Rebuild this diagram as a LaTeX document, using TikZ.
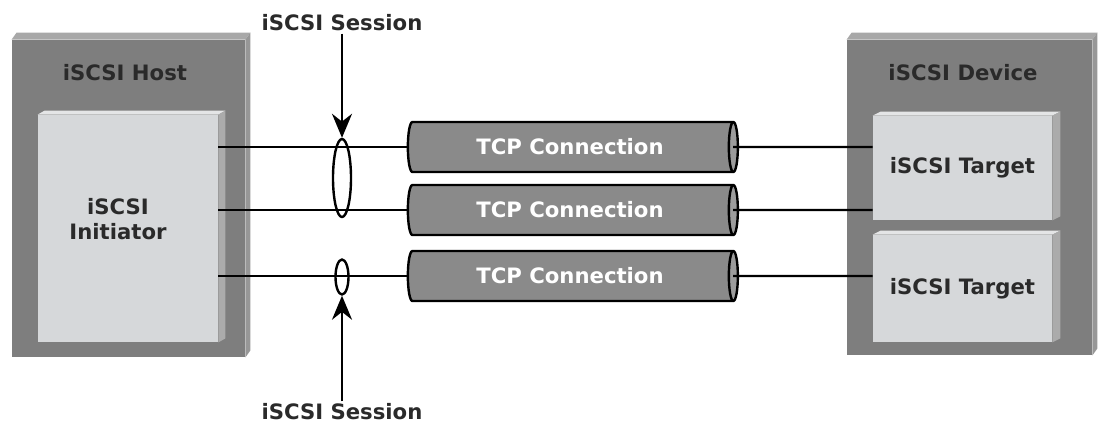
\documentclass[tikz,border=0pt]{standalone}
\usepackage{fontspec}
\setmainfont{DejaVu Sans}
\usetikzlibrary{shapes.geometric,arrows.meta}
\definecolor{boxdark}{HTML}{7E7E7E}
\definecolor{boxtop}{HTML}{A8A8A8}
\definecolor{boxside}{HTML}{979797}
\definecolor{panel}{HTML}{D6D8DA}
\definecolor{paneltop}{HTML}{E4E5E6}
\definecolor{panelside}{HTML}{ABABAB}
\definecolor{tubefill}{HTML}{8A8A8A}
\definecolor{tubeend}{HTML}{9C9C9C}
\definecolor{labeltext}{HTML}{2A2A2A}
\newcommand\boxbevel[5]{%
  \fill[#4] (#1.north west) -- ++(#2,-#3) -- ([shift={(#2,-#3)}]#1.north east) -- (#1.north east) -- cycle;
  \fill[#5] (#1.north east) -- ++(#2,-#3) -- ([shift={(#2,-#3)}]#1.south east) -- (#1.south east) -- cycle;}
\newcommand\lblfont{\bfseries\fontsize{10.6}{12.5}\selectfont}

\begin{document}
\begin{tikzpicture}[x=0.5pt,y=-0.5pt,>={Stealth[length=12pt,width=10pt]},
    outerbox/.style={fill=boxdark,inner sep=0pt},
    innerbox/.style={fill=panel,inner sep=0pt,font=\lblfont,text=labeltext},
    lbl/.style={font=\lblfont,text=labeltext,inner sep=1pt,align=center},
    tcp/.style={cylinder,draw=black,line width=1.2pt,shape aspect=0.55,
      cylinder uses custom fill,cylinder body fill=tubefill,cylinder end fill=tubeend,
      minimum height=165pt,minimum width=25pt,inner sep=0pt,text=white,font=\lblfont},
    session/.style={ellipse,draw=black,line width=1.2pt,inner sep=0pt},
    link/.style={line width=1.2pt}]
    \fill[white] (0,0) rectangle (1107,424);
    \useasboundingbox (0,0) rectangle (1107,424);

    \node[outerbox,minimum width=116.5pt,minimum height=158.5pt] (host) at (128.5,198.5) {};
    \boxbevel{host}{5}{7}{boxtop}{boxside}
    \node[lbl] (hostlbl) at (125,73) {iSCSI Host};
    \node[innerbox,minimum width=90pt,minimum height=113.5pt] (init) at (128,228.5) {};
    \boxbevel{init}{7}{4}{paneltop}{panelside}
    \node[lbl] (initlbl) at (118,219) {iSCSI\\Initiator};

    \node[outerbox,minimum width=122.5pt,minimum height=157.5pt] (dev) at (969.5,197.5) {};
    \boxbevel{dev}{5}{7}{boxtop}{boxside}
    \node[lbl] (devlbl) at (963,73) {iSCSI Device};
    \node[innerbox,minimum width=89.5pt,minimum height=52pt] (tgtA) at (962.5,168) {iSCSI Target};
    \boxbevel{tgtA}{8}{4}{paneltop}{panelside}
    \node[innerbox,minimum width=89.5pt,minimum height=53.5pt] (tgtB) at (962.5,288.5) {iSCSI Target};
    \boxbevel{tgtB}{8}{4}{paneltop}{panelside}

    \node[tcp] (tcpA) at (570,147) {TCP Connection};
    \node[tcp] (tcpB) at (570,210) {TCP Connection};
    \node[tcp] (tcpC) at (570,276) {TCP Connection};

    \draw[link] (init.east |- tcpA) -- (tcpA.west);
    \draw[link] (init.east |- tcpB) -- (tcpB.west);
    \draw[link] (init.east |- tcpC) -- (tcpC.west);
    \draw[link] ([xshift=-3pt]tcpA.east) -- (tgtA.west |- tcpA);
    \draw[link] ([xshift=-3pt]tcpB.east) -- (tgtA.west |- tcpB);
    \draw[link] ([xshift=-3pt]tcpC.east) -- (tgtB.west |- tcpC);

    \node[session,minimum width=9pt,minimum height=39pt] (sesA) at (342,178) {};
    \node[session,minimum width=6.5pt,minimum height=17.5pt] (sesB) at (342,277) {};
    \node[lbl] (sesAlbl) at (342,23) {iSCSI Session};
    \node[lbl] (sesBlbl) at (342,412) {iSCSI Session};
    \draw[->,link] (sesAlbl) -- (sesA);
    \draw[->,link] (sesBlbl) -- (sesB);
\end{tikzpicture}
\end{document}
